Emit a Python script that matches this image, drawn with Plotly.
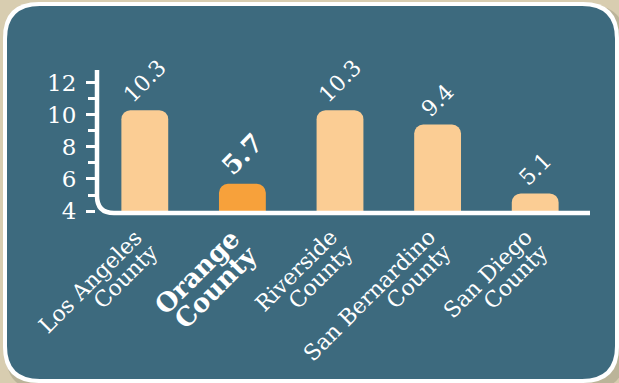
import plotly.graph_objects as go

categories = ["Los Angeles County", "Orange County", "Riverside County",
              "San Bernardino County", "San Diego County"]
label_line1 = ["Los Angeles", "<b>Orange</b>", "Riverside", "San Bernardino", "San Diego"]
label_line2 = ["County", "<b>County</b>", "County", "County", "County"]
values = [10.3, 5.7, 10.3, 9.4, 5.1]
label_text = ["10.3", "<b>5.7</b>", "10.3", "9.4", "5.1"]
bar_colors = ["#fbcd94", "#f7a13b", "#fbcd94", "#fbcd94", "#fbcd94"]
label_sizes = [22, 26, 22, 22, 22]
cat_sizes = [22, 26, 22, 22, 22]
ytick_vals = [4, 6, 8, 10, 12]

W, H = 619, 383
L, R, T, B = 96, 35, 70, 172
PW, PH = W - L - R, H - T - B

def px(x):
    return (x - L) / PW

def py(y):
    return (H - B - y) / PH

def rounded_rect(x0, y0, x1, y1, r):
    X0, X1 = px(x0), px(x1)
    Y0, Y1 = py(y0), py(y1)
    rx, ry = r / PW, r / PH
    return (f"M {X0+rx},{Y0} L {X1-rx},{Y0} Q {X1},{Y0} {X1},{Y0-ry} "
            f"L {X1},{Y1+ry} Q {X1},{Y1} {X1-rx},{Y1} "
            f"L {X0+rx},{Y1} Q {X0},{Y1} {X0},{Y1+ry} "
            f"L {X0},{Y0-ry} Q {X0},{Y0} {X0+rx},{Y0} Z")

SERIF = "DejaVu Serif, Liberation Serif, serif"

fig = go.Figure()
fig.add_trace(go.Bar(
    x=categories, y=values,
    marker=dict(color=bar_colors, cornerradius=9, line=dict(width=0)),
    text=label_text, textposition="outside", textangle=-45, constraintext="none",
    textfont=dict(color="white", size=label_sizes, family=SERIF),
    cliponaxis=False, width=0.48,
))

shapes = [
    # shadow
    dict(type="path", xref="paper", yref="paper", path=rounded_rect(6, 5, 625, 390, 36),
         fillcolor="#a9a48a", line=dict(width=0), layer="below", opacity=0.6),
    dict(type="path", xref="paper", yref="paper", path=rounded_rect(3, 2, 619, 383, 36),
         fillcolor="white", line=dict(width=0), layer="below"),
    dict(type="path", xref="paper", yref="paper", path=rounded_rect(7, 6, 615, 379, 33),
         fillcolor="#3d6a7e", line=dict(width=0), layer="below"),
    # axis lines with rounded corner
    dict(type="path", xref="paper", yref="paper",
         path=(f"M {px(97)},{py(70)} L {px(97)},{py(196)} "
               f"Q {px(97)},{py(213)} {px(114)},{py(213)} L {px(590)},{py(213)}"),
         line=dict(color="white", width=4.5), layer="above"),
]

annotations = []
for cat, l1, l2, sz in zip(categories, label_line1, label_line2, cat_sizes):
    bold = sz > 22
    annotations.append(dict(
        x=cat, xref="x", y=py(221 if bold else 222), yref="paper", text=l1,
        textangle=-45, xanchor="right", yanchor="top", showarrow=False,
        xshift=6 if bold else 5, font=dict(size=sz, color="white", family=SERIF),
    ))
    annotations.append(dict(
        x=cat, xref="x", y=py(237), yref="paper", text=l2,
        textangle=-45, xanchor="right", yanchor="top", showarrow=False,
        xshift=24 if bold else 21, font=dict(size=sz, color="white", family=SERIF),
    ))

fig.update_layout(
    width=W, height=H,
    margin=dict(l=L, r=R, t=T, b=B, autoexpand=False),
    paper_bgcolor="#d8cdb0",
    plot_bgcolor="rgba(0,0,0,0)",
    showlegend=False,
    shapes=shapes,
    annotations=annotations,
    bargap=0.52,
    font=dict(family=SERIF, color="white"),
    xaxis=dict(
        type="category", categoryorder="array", categoryarray=categories,
        range=[-0.5, len(categories) - 0.5], autorange=False,
        showticklabels=False,
        showgrid=False, showline=False, ticks="", zeroline=False, automargin=False,
    ),
    yaxis=dict(
        range=[4, 12.81], autorange=False, tickvals=ytick_vals, showgrid=False, zeroline=False,
        showline=False, ticks="outside", ticklen=9, tickwidth=2.5, tickcolor="white",
        tickfont=dict(size=23, color="white", family=SERIF),
        minor=dict(dtick=1, ticks="outside", ticklen=7, tickwidth=2.5, tickcolor="white",
                   showgrid=False),
        ticklabelstandoff=5, automargin=False,
    ),
)

fig.write_html("out.html")
